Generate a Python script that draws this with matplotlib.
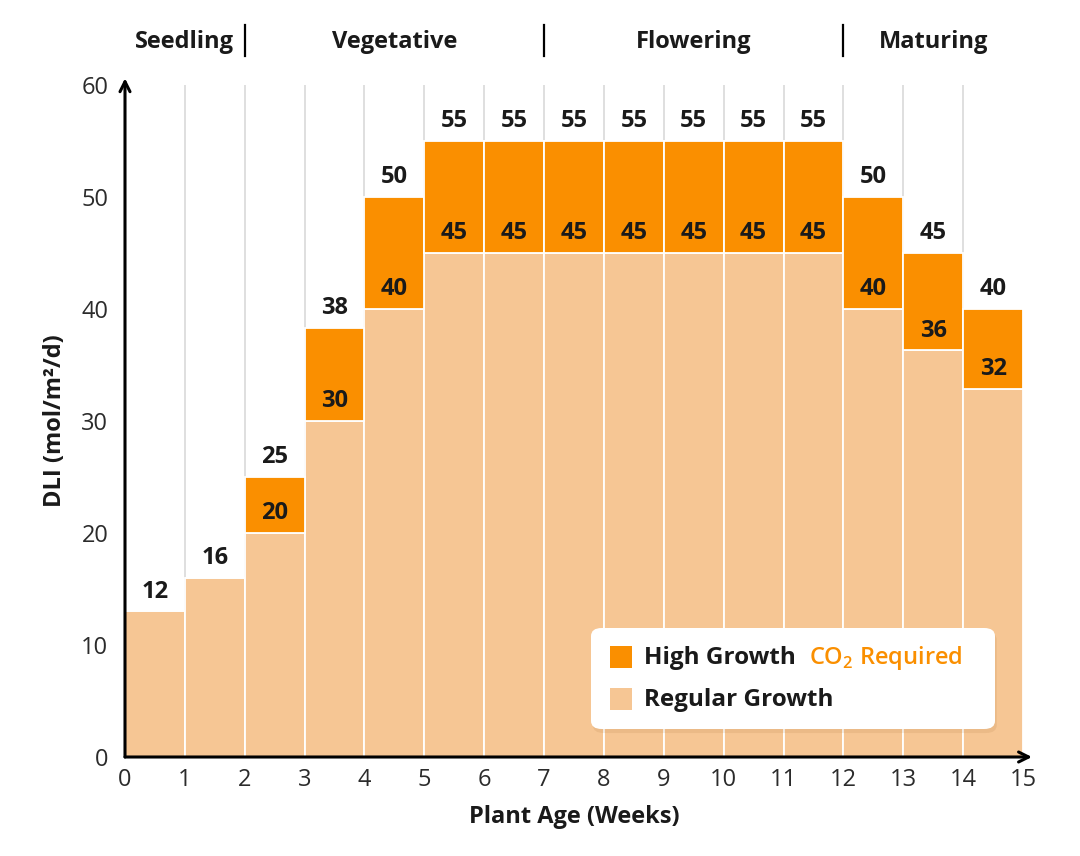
import matplotlib
matplotlib.use("Agg")
import matplotlib.pyplot as plt
from matplotlib.patches import FancyBboxPatch, Rectangle
import matplotlib.transforms as mtransforms
import numpy as np

plt.rcParams['font.family'] = ['Open Sans', 'DejaVu Sans']

# ---------------- data ----------------
weeks = list(range(15))  # left edge of each weekly bar
regular = [13, 16, 20, 30, 40, 45, 45, 45, 45, 45, 45, 45, 40, 36.3, 32.9]
high = [13, 16, 25, 38.3, 50, 55, 55, 55, 55, 55, 55, 55, 50, 45, 40]
regular_labels = ["12", "16", "20", "30", "40", "45", "45", "45", "45", "45", "45", "45", "40", "36", "32"]
high_labels = ["", "", "25", "38", "50", "55", "55", "55", "55", "55", "55", "55", "50", "45", "40"]
phases = ["Seedling", "Vegetative", "Flowering", "Maturing"]
phase_bounds = [0, 2, 7, 12, 15]
x_ticks = list(range(16))
y_ticks = [0, 10, 20, 30, 40, 50, 60]

ORANGE = "#FA8F00"
LIGHT = "#F6C694"
TXT = "#1a1a1a"
W = 'bold'
FS = 17

fig = plt.figure(figsize=(10.8, 8.56), dpi=100)
ax = fig.add_axes([125/1080, 1 - 757/856, (1023-125)/1080, (757-85)/856])

# vertical grid lines
for xv in range(1, 15):
    ax.plot([xv, xv], [0, 60], color="#d9d9d9", lw=1.2, zorder=0)

ext = [h - r for h, r in zip(high, regular)]
ax.bar(weeks, regular, width=1, align='edge', color=LIGHT, edgecolor='white', linewidth=1.3, zorder=2)
ax.bar(weeks, ext, bottom=regular, width=1, align='edge', color=ORANGE, edgecolor='white', linewidth=1.3, zorder=2)

# labels
for x, r, h, rl, hl in zip(weeks, regular, high, regular_labels, high_labels):
    ax.annotate(rl, (x + 0.5, r), xytext=(0, 5.5), textcoords='offset points',
                ha='center', va='bottom', fontsize=FS, fontweight=W, color=TXT, zorder=5)
    if hl:
        ax.annotate(hl, (x + 0.5, h), xytext=(0, 5.5), textcoords='offset points',
                    ha='center', va='bottom', fontsize=FS, fontweight=W, color=TXT, zorder=5)

ax.set_xlim(0, 15)
ax.set_ylim(0, 60)
ax.set_xticks(x_ticks)
ax.set_yticks(y_ticks)
ax.tick_params(axis='y', length=0, labelsize=17, labelcolor="#2b2b2b", pad=12)
ax.tick_params(axis='x', length=0, labelsize=17, labelcolor="#2b2b2b", pad=8)
for s in ax.spines.values():
    s.set_visible(False)

# axes with arrows
ax.annotate('', xy=(0, 60.6), xytext=(0, 0), xycoords='data',
            arrowprops=dict(arrowstyle='->', lw=2.2, color='black', shrinkA=0, shrinkB=0,
                            mutation_scale=18), annotation_clip=False, zorder=6)
ax.annotate('', xy=(15.15, 0), xytext=(0, 0), xycoords='data',
            arrowprops=dict(arrowstyle='->', lw=2.2, color='black', shrinkA=0, shrinkB=0,
                            mutation_scale=18), annotation_clip=False, zorder=6)

ax.set_xlabel("Plant Age (Weeks)", fontsize=FS, fontweight=W, color=TXT, labelpad=9)
ax.set_ylabel("DLI (mol/m²/d)", fontsize=FS, fontweight=W, color=TXT, labelpad=10)

# phase labels at top
trans = mtransforms.blended_transform_factory(ax.transData, ax.transAxes)
for i, name in enumerate(phases):
    cx = (phase_bounds[i] + phase_bounds[i + 1]) / 2
    ax.text(cx, 1.064, name, transform=trans, ha='center', va='center',
            fontsize=FS, fontweight=W, color=TXT)
for b in phase_bounds[1:-1]:
    ax.plot([b, b], [1.043, 1.09], transform=trans, color='black', lw=1.6, clip_on=False)

# custom legend
def ax_frac(px, py):
    return ((px - 125) / (1023 - 125), (757 - py) / (757 - 85))

x0, y0 = ax_frac(591, 729)
x1, y1 = ax_frac(995, 628)
shadow = FancyBboxPatch((x0 + 0.002, y0 - 0.006), x1 - x0, y1 - y0,
                        boxstyle="round,pad=0,rounding_size=0.012", transform=ax.transAxes,
                        facecolor='#b07a40', alpha=0.15, edgecolor='none', zorder=7)
ax.add_patch(shadow)
box = FancyBboxPatch((x0, y0), x1 - x0, y1 - y0,
                     boxstyle="round,pad=0,rounding_size=0.012", transform=ax.transAxes,
                     facecolor='white', edgecolor='none', zorder=8)
ax.add_patch(box)

sx, sy = ax_frac(610, 668)
sx2, sy2 = ax_frac(632, 646)
ax.add_patch(Rectangle((sx, sy), sx2 - sx, sy2 - sy, transform=ax.transAxes,
                       facecolor=ORANGE, edgecolor='none', zorder=9))
rx, ry = ax_frac(610, 710)
rx2, ry2 = ax_frac(632, 688)
ax.add_patch(Rectangle((rx, ry), rx2 - rx, ry2 - ry, transform=ax.transAxes,
                       facecolor=LIGHT, edgecolor='none', zorder=9))

tx, ty = ax_frac(644, 658)
ax.text(tx, ty, "High Growth", transform=ax.transAxes, ha='left', va='center',
        fontsize=17.5, fontweight=W, color=TXT, zorder=10)
cx_, _ = ax_frac(809, 658)
ax.text(cx_, ty, "CO$_\\mathregular{2}$ Required", transform=ax.transAxes, ha='left', va='center',
        fontsize=17, fontweight='semibold', color=ORANGE, zorder=10)
tx2, ty2 = ax_frac(644, 700)
ax.text(tx2, ty2, "Regular Growth", transform=ax.transAxes, ha='left', va='center',
        fontsize=17.5, fontweight=W, color=TXT, zorder=10)

fig.savefig("out.png", dpi=100, facecolor='white')
